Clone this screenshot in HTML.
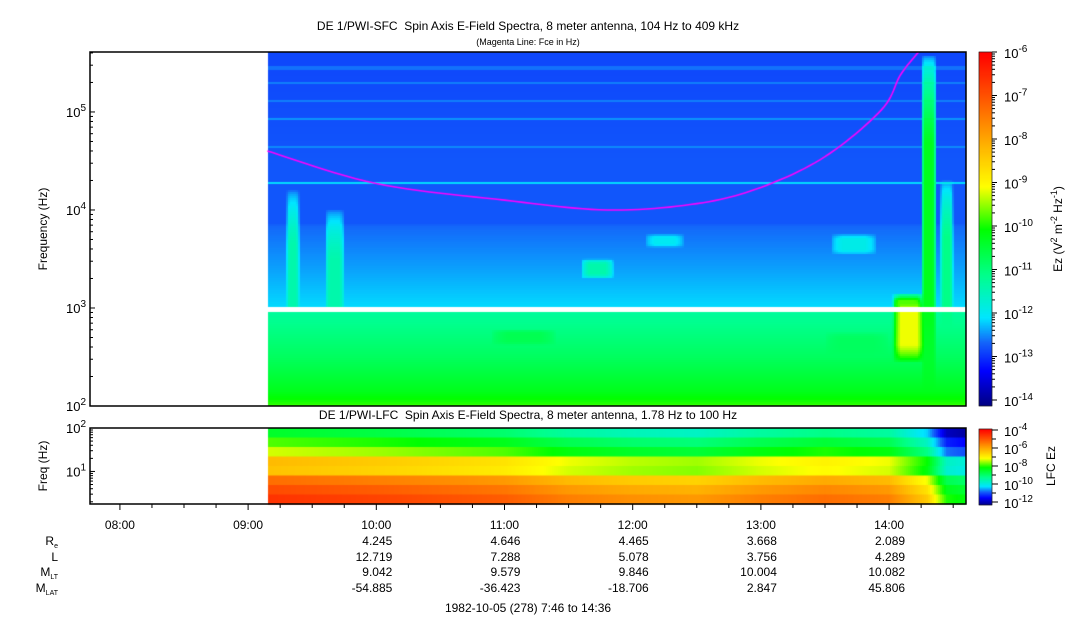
<!DOCTYPE html>
<html><head><meta charset="utf-8"><style>
body{margin:0;background:#fff;width:1083px;height:620px;overflow:hidden;font-family:"Liberation Sans",sans-serif}
#cv{position:absolute;left:0;top:0}
svg{position:absolute;left:0;top:0}
text{font-family:"Liberation Sans",sans-serif;fill:#000}
</style></head><body>
<canvas id="cv" width="1083" height="620"></canvas>
<svg id="sv" width="1083" height="620"></svg>
<script>
// ---------- data ----------
const sfcLogF   = [2.0, 2.15, 2.5, 2.99, 3.01, 3.4, 3.84, 3.86, 4.5, 5.0, 5.62];
const sfcLevel  = [-9.8,-10.2,-10.7,-11.2,-12.05,-12.3,-12.55,-12.65,-12.65,-12.7,-12.75];
const lineLogF  = [4.27, 4.65, 4.93, 5.12, 5.3, 5.45];
const lineLevel = [-12.05, -12.4, -12.35, -12.45, -12.45, -12.5];
const evStart = [9.3, 9.6, 14.03, 14.03, 14.25, 14.4, 11.6, 10.9, 13.55, 13.5, 12.1];
const evEnd   = [9.4, 9.75, 14.28, 14.25, 14.37, 14.5, 11.85, 11.4, 13.9, 14.0, 12.4];
const evFmin  = [2.0, 2.0, 2.45, 3.0, 2.0, 2.0, 3.3, 2.62, 3.55, 2.5, 3.62];
const evFmax  = [4.2, 4.0, 3.15, 3.1, 5.58, 4.3, 3.5, 2.78, 3.75, 2.75, 3.75];
const evLevel = [-11.3, -11.3, -9.1, -9.7, -10.2, -11.0, -11.3, -10.6, -11.8, -10.7, -11.9];
const fceHour = [9.15, 10.0, 11.0, 11.8, 12.5, 13.0, 13.5, 13.94, 14.09, 14.23];
const fceHz   = [40000, 18600, 12600, 10000, 11600, 17000, 35000, 105000, 240000, 409000];
const lfcRows  = [-8.6, -8.0, -7.5, -6.5, -6.6, -5.6, -5.2, -4.9];
const lfcHour  = [9.15, 10.0, 11.0, 11.5, 12.0, 12.5, 13.0, 13.5, 14.0, 14.3, 14.45, 14.6];
const lfcAdj   = [0.3, 0.1, -0.2, -0.6, -0.8, -0.9, -0.6, -0.4, -0.6, -1.5, -3.0, -3.2];
const hourTicks = ["08:00","09:00","10:00","11:00","12:00","13:00","14:00"];
const ephRe  = ["4.245","4.646","4.465","3.668","2.089"];
const ephL   = ["12.719","7.288","5.078","3.756","4.289"];
const ephMLT = ["9.042","9.579","9.846","10.004","10.082"];
const ephMLAT= ["-54.885","-36.423","-18.706","2.847","45.806"];

// ---------- geometry ----------
const X0=90, X1=966, T0=7+46/60, T1=14+36/60, DATA0=9.155;
const xOf = h => X0 + (h-T0)/(T1-T0)*(X1-X0);
const tOf = x => T0 + (x-X0)/(X1-X0)*(T1-T0);
const TY0=52, TY1=406, FMIN=2, FMAX=Math.log10(409000);
const yTop = lf => TY1 - (lf-FMIN)/(FMAX-FMIN)*(TY1-TY0);
const lfTop = y => FMIN + (TY1-y)/(TY1-TY0)*(FMAX-FMIN);
const BY0=428, BY1=504, BFMIN=Math.log10(1.78), BFMAX=2;
const yBot = lf => BY1 - (lf-BFMIN)/(BFMAX-BFMIN)*(BY1-BY0);

function interp(xs, ys, x){
  if(x<=xs[0]) return ys[0];
  for(let i=1;i<xs.length;i++){ if(x<=xs[i]){const f=(x-xs[i-1])/(xs[i]-xs[i-1]);return ys[i-1]+f*(ys[i]-ys[i-1]);} }
  return ys[ys.length-1];
}
const stops=[[0,[0,0,128]],[0.1,[0,0,255]],[0.18,[20,100,250]],[0.25,[0,230,255]],[0.37,[0,255,140]],[0.5,[0,255,0]],[0.62,[255,255,0]],[0.75,[255,170,0]],[0.88,[255,80,0]],[1,[255,0,0]]];
function cmap(v){
  v=Math.max(0,Math.min(1,v));
  for(let i=1;i<stops.length;i++){ if(v<=stops[i][0]){const a=stops[i-1],b=stops[i];const f=(v-a[0])/(b[0]-a[0]);
    return `rgb(${a[1].map((c,k)=>Math.round(c+f*(b[1][k]-c))).join(',')})`;} }
  return 'rgb(255,0,0)';
}
function soft(u){ const d=Math.min(u,1-u); return Math.min(1,d/0.25); }

// ---------- draw spectrograms ----------
const cv=document.getElementById('cv'), ctx=cv.getContext('2d');
const xs0=Math.round(xOf(DATA0));
for(let x=xs0;x<X1;x+=2){
  const h=tOf(x+1);
  for(let y=TY0;y<TY1;y+=2){
    const lf=lfTop(y+1);
    let v=interp(sfcLogF,sfcLevel,lf);
    for(let i=0;i<lineLogF.length;i++){ if(Math.abs(lf-lineLogF[i])<0.012) v=Math.max(v,lineLevel[i]); }
    for(let i=0;i<evStart.length;i++){
      if(h>=evStart[i]&&h<=evEnd[i]&&lf>=evFmin[i]&&lf<=evFmax[i]){
        const k=Math.sqrt(soft((h-evStart[i])/(evEnd[i]-evStart[i]))*soft((lf-evFmin[i])/(evFmax[i]-evFmin[i])));
        if(evLevel[i]>v) v=v+(evLevel[i]-v)*k;
      }
    }
    ctx.fillStyle=cmap((v+14)/8);
    ctx.fillRect(x,y,2,2);
  }
}
ctx.fillStyle='#fff'; ctx.fillRect(xs0,307,X1-xs0,5);
const P=fceHour.map((h,i)=>[xOf(h),yTop(Math.log10(fceHz[i]))]);
ctx.save(); ctx.beginPath(); ctx.rect(X0,TY0,X1-X0,TY1-TY0); ctx.clip();
ctx.strokeStyle='#ff00ff'; ctx.lineWidth=1.6; ctx.beginPath(); ctx.moveTo(P[0][0],P[0][1]);
for(let i=0;i<P.length-1;i++){
  const p0=P[Math.max(0,i-1)],p1=P[i],p2=P[i+1],p3=P[Math.min(P.length-1,i+2)];
  for(let s=1;s<=12;s++){const t=s/12,t2=t*t,t3=t2*t;
    const f=(a,b,c,d)=>0.5*((2*b)+(-a+c)*t+(2*a-5*b+4*c-d)*t2+(-a+3*b-3*c+d)*t3);
    ctx.lineTo(f(p0[0],p1[0],p2[0],p3[0]),f(p0[1],p1[1],p2[1],p3[1]));}
}
ctx.stroke(); ctx.restore();
const rh=(BY1-BY0)/lfcRows.length;
for(let x=xs0;x<X1;x+=2){
  const a=interp(lfcHour,lfcAdj,tOf(x+1));
  for(let r=0;r<lfcRows.length;r++){
    ctx.fillStyle=cmap((lfcRows[r]+a+12)/8);
    ctx.fillRect(x,BY0+r*rh,2,Math.ceil(rh));
  }
}
for(let y=TY0;y<TY1;y++){ ctx.fillStyle=cmap((TY1-y)/(TY1-TY0)); ctx.fillRect(979,y,13,1); }
for(let y=BY0+1;y<BY1+1;y++){ ctx.fillStyle=cmap((BY1+1-y)/(BY1-BY0)); ctx.fillRect(979,y,13,1); }

// ---------- svg overlay ----------
const NS='http://www.w3.org/2000/svg', sv=document.getElementById('sv');
function el(tag,attrs,txt){const e=document.createElementNS(NS,tag);for(const k in attrs)e.setAttribute(k,attrs[k]);if(txt!==undefined)e.innerHTML=txt;sv.appendChild(e);return e;}
let e;
e=el('rect',{x:X0,y:TY0,width:X1-X0,height:TY1-TY0,fill:'none',stroke:'#000','stroke-width':1.5});
 
e=el('rect',{x:X0,y:BY0,width:X1-X0,height:BY1-BY0,fill:'none',stroke:'#000','stroke-width':1.5});
 
for(let d=2;d<=5;d++){
  for(let m=1;m<10;m++){
    const lf=d+Math.log10(m); if(lf>FMAX) break;
    const y=yTop(lf);
    el('line',{x1:X0,x2:X0+(m==1?5:3),y1:y,y2:y,stroke:'#000'});
  }
  e=el('text',{x:86,y:yTop(d)+5,'text-anchor':'end','font-size':13},`10<tspan dy="-6" font-size="10">${d}</tspan>`);
   
}
for(let d=0;d<=2;d++){
  for(let m=1;m<10;m++){
    const lf=d+Math.log10(m); if(lf>BFMAX+1e-9||lf<BFMIN) continue;
    const y=yBot(lf);
    el('line',{x1:X0,x2:X0+(m==1?5:3),y1:y,y2:y,stroke:'#000'});
  }
}
[1,2].forEach(d=>{e=el('text',{x:86,y:yBot(d)+5,'text-anchor':'end','font-size':13},`10<tspan dy="-6" font-size="10">${d}</tspan>`);
  });
for(let q=0;q<4*7;q++){
  const h=8+q/4; if(h>T1) break; const x=xOf(h);
  el('line',{x1:x,x2:x,y1:BY1,y2:BY1+(q%4==0?6:4),stroke:'#000'});
}
hourTicks.forEach((t,i)=>{e=el('text',{x:xOf(8+i),y:529,'text-anchor':'middle','font-size':12},t);
  });
const rows=[[ephRe,545,'R<tspan font-size="7" dy="3">e</tspan>'],[ephL,561,'L'],[ephMLT,576,'M<tspan font-size="7" dy="3">LT</tspan>'],[ephMLAT,592,'M<tspan font-size="7" dy="3">LAT</tspan>']];
rows.forEach(r=>{
  e=el('text',{x:58,y:r[1],'text-anchor':'end','font-size':12},r[2]);
   
  r[0].forEach((v,i)=>{e=el('text',{x:xOf(10+i)+16,y:r[1],'text-anchor':'end','font-size':12},v);
     });
});
e=el('text',{x:528,y:612,'text-anchor':'middle','font-size':12},'1982-10-05 (278) 7:46 to 14:36');
 
e=el('text',{x:528,y:30,'text-anchor':'middle','font-size':12},'DE 1/PWI-SFC&#160; Spin Axis E-Field Spectra, 8 meter antenna, 104 Hz to 409 kHz');
 
e=el('text',{x:528,y:45,'text-anchor':'middle','font-size':9},'(Magenta Line: Fce in Hz)');
 
e=el('text',{x:528,y:419,'text-anchor':'middle','font-size':12},'DE 1/PWI-LFC&#160; Spin Axis E-Field Spectra, 8 meter antenna, 1.78 Hz to 100 Hz');
 
e=el('text',{x:47,y:229,'text-anchor':'middle','font-size':12,transform:'rotate(-90 47 229)'},'Frequency (Hz)');
 
e=el('text',{x:47,y:466,'text-anchor':'middle','font-size':12,transform:'rotate(-90 47 466)'},'Freq (Hz)');
 
el('rect',{x:979,y:TY0,width:13,height:TY1-TY0,fill:'none',stroke:'#000','stroke-width':0.6});
for(let p=-14;p<=-6;p++){
  const yy=TY0+(-6-p)*((TY1-TY0-6)/8);
  for(let m=1;m<10;m++){const ym=yy-Math.log10(m)*((TY1-TY0-6)/8); if(ym<TY0) break; el('line',{x1:992,x2:992+(m==1?5:3),y1:ym,y2:ym,stroke:'#000'});}
  e=el('text',{x:1004,y:yy+6,'font-size':13},`10<tspan dy="-6" font-size="10">${p}</tspan>`);
   
}
e=el('text',{x:1062,y:229,'text-anchor':'middle','font-size':12,transform:'rotate(-90 1062 229)'},'Ez (V<tspan dy="-5" font-size="9">2</tspan><tspan dy="5"> m</tspan><tspan dy="-5" font-size="9">-2</tspan><tspan dy="5"> Hz</tspan><tspan dy="-5" font-size="9">-1</tspan><tspan dy="5">)</tspan>');
 
el('rect',{x:979,y:BY0+1,width:13,height:BY1-BY0,fill:'none',stroke:'#000','stroke-width':0.6});
[-4,-6,-8,-10,-12].forEach((p,i)=>{
  const y=BY0+2+i*(BY1-BY0-4)/4;
  el('line',{x1:992,x2:998,y1:y,y2:y,stroke:'#000'});
  if(i<4) el('line',{x1:992,x2:996,y1:y+(BY1-BY0-4)/8,y2:y+(BY1-BY0-4)/8,stroke:'#000'});
  e=el('text',{x:1004,y:y+6,'font-size':13},`10<tspan dy="-6" font-size="10">${p}</tspan>`);
   
});
e=el('text',{x:1055,y:466,'text-anchor':'middle','font-size':12,transform:'rotate(-90 1055 466)'},'LFC Ez');
 
</script>
</body></html>
